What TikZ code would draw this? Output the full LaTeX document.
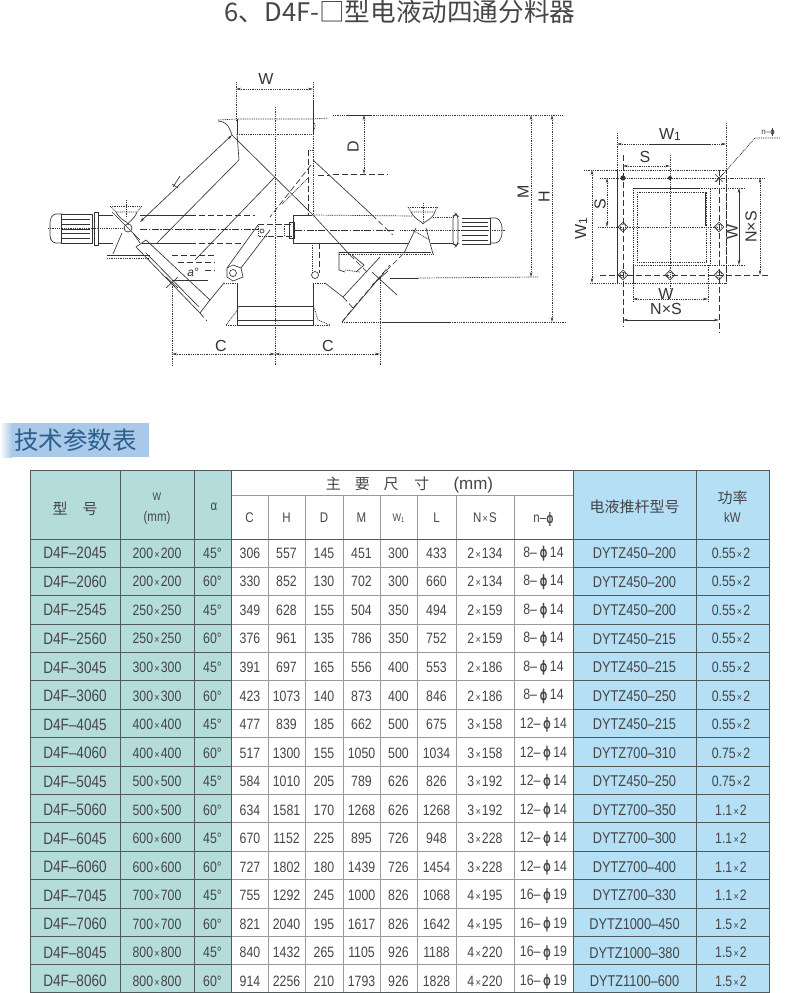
\documentclass[tikz,border=0pt]{standalone}
\usepackage{fontspec}
\usetikzlibrary{arrows.meta}
\setmainfont[FakeStretch=0.82]{Liberation Sans}
\newfontfamily\cjkfont{Noto Sans CJK SC}
\newfontfamily\phifont[FakeStretch=0.8,FakeBold=1]{DejaVu Sans}
\newfontfamily\dimfont{Liberation Sans}
\newcommand{\ph}{{\phifont ϕ}}
\newcommand{\tms}{\kern1.2pt{\fontsize{11}{11}\selectfont ×}\kern1.2pt}
\definecolor{tealcell}{HTML}{B3DCDB}
\definecolor{bluecell}{HTML}{B4DFF5}
\definecolor{banner}{HTML}{AAC8E8}
\definecolor{bannertext}{HTML}{2B5F8E}
\definecolor{gridline}{HTML}{505A5A}
\definecolor{inktext}{HTML}{454545}
\definecolor{ink}{HTML}{333333}
\tikzset{
  x=1pt,y=-1pt,
  >={Stealth[length=5pt,width=2.6pt]},
  cell/.style={inner sep=0pt,text=inktext,font=\fontsize{15}{16}\selectfont},
  modelcell/.style={cell,font=\fontsize{16.5}{17}\selectfont},
  rodcell/.style={cell,font=\fontsize{15.6}{17}\selectfont},
  headcjk/.style={inner sep=0pt,text=inktext,font=\fontsize{15}{17}\cjkfont},
  subhead/.style={inner sep=0pt,text=inktext,font=\fontsize{14}{15}\selectfont},
  solidline/.style={draw=ink,line width=0.65pt},
  dotline/.style={draw=ink,line width=0.7pt,dash pattern=on 1pt off 0.8pt},
  dashline/.style={draw=ink,line width=0.65pt,dash pattern=on 6pt off 3pt},
  centerline/.style={draw=ink,line width=0.6pt,dash pattern=on 7pt off 1.5pt on 1.5pt off 1.5pt},
  dimlabel/.style={inner sep=0pt,text=ink,font=\fontsize{16}{17}\dimfont},
  grid/.style={draw=gridline,line width=1pt},
  softgrid/.style={draw=gray!80,line width=1pt},
}
\begin{document}
\begin{tikzpicture}
\useasboundingbox (0,0) rectangle (789,993);
% title
\node[inner sep=0pt,text=inktext,font=\fontsize{25.6}{27}\cjkfont] (title) at (400,12) {6、D4F-□型电液动四通分料器};
% banner
\path[left color=white,right color=banner] (0,423) rectangle (12,457);
\fill[banner] (12,423) rectangle (149,457);
\node[inner sep=0pt,text=bannertext,font=\fontsize{24.5}{26}\cjkfont] (bannerlabel) at (75.5,440) {技术参数表};

%% ---------- table ----------
\fill[tealcell] (30,470) rectangle (231,993);
\fill[bluecell] (573,470) rectangle (769,993);
\foreach \yy in {567.3,595.7,...,990} \draw[softgrid] (231,\yy) -- (573,\yy);
\draw[softgrid] (231,495) -- (573,495);
\foreach \xx in {268,305,343,380,417,456,514} \draw[softgrid] (\xx,495) -- (\xx,993);
\foreach \yy in {567.3,595.7,...,990} {\draw[grid] (30,\yy) -- (231,\yy); \draw[grid] (573,\yy) -- (769,\yy);}
\draw[grid] (30,539) -- (769,539);
\draw[grid] (30,470) rectangle (769,992.5);
\foreach \xx in {120,194,231,573,696,769} \draw[grid] (\xx,470) -- (\xx,992.5);
% header
\node[headcjk] (hmodel) at (75,509) {型\hspace{1em}号};
\node[subhead,font=\fontsize{11}{12}\selectfont] (hw) at (157,497) {W};
\node[subhead] (hmm) at (157,518) {(mm)};
\node[subhead] (halpha) at (214,507) {α};
\node[headcjk] (hmain) at (409.5,485) {主\hspace{0.93em}要\hspace{0.93em}尺\hspace{1.05em}寸\hspace{1.6em}{\fontsize{17}{18}\dimfont (mm)}};
\node[subhead] (hc) at (249.5,518) {C};
\node[subhead] (hh) at (286.5,518) {H};
\node[subhead] (hd) at (324,518) {D};
\node[subhead] (hm) at (361.5,518) {M};
\node[subhead,font=\fontsize{11}{12}\selectfont] (hwone) at (398.5,518) {W\raisebox{-1pt}{\fontsize{7}{8}\selectfont 1}};
\node[subhead] (hl) at (436.5,518) {L};
\node[subhead] (hns) at (485,518) {N\tms S};
\node[subhead] (hn) at (543.5,519) {n–\ph};
\node[headcjk] (hrod) at (634.5,507) {电液推杆型号};
\node[headcjk] (hpow) at (732.5,498) {功率};
\node[subhead] (hkw) at (732.5,517) {kW};
% rows
\foreach \ma/\mb/\mc/\md/\me/\mf/\mg/\mh/\mi/\mj/\mk/\ml/\mm [count=\rr] in {
D4F–2045/200\tms200/45°/306/557/145/451/300/433/2\tms134/8–/DYTZ450–200/0.55\tms2,
D4F–2060/200\tms200/60°/330/852/130/702/300/660/2\tms134/8–/DYTZ450–200/0.55\tms2,
D4F–2545/250\tms250/45°/349/628/155/504/350/494/2\tms159/8–/DYTZ450–200/0.55\tms2,
D4F–2560/250\tms250/60°/376/961/135/786/350/752/2\tms159/8–/DYTZ450–215/0.55\tms2,
D4F–3045/300\tms300/45°/391/697/165/556/400/553/2\tms186/8–/DYTZ450–215/0.55\tms2,
D4F–3060/300\tms300/60°/423/1073/140/873/400/846/2\tms186/8–/DYTZ450–250/0.55\tms2,
D4F–4045/400\tms400/45°/477/839/185/662/500/675/3\tms158/12–/DYTZ450–215/0.55\tms2,
D4F–4060/400\tms400/60°/517/1300/155/1050/500/1034/3\tms158/12–/DYTZ700–310/0.75\tms2,
D4F–5045/500\tms500/45°/584/1010/205/789/626/826/3\tms192/12–/DYTZ450–250/0.75\tms2,
D4F–5060/500\tms500/60°/634/1581/170/1268/626/1268/3\tms192/12–/DYTZ700–350/1.1\tms2,
D4F–6045/600\tms600/45°/670/1152/225/895/726/948/3\tms228/12–/DYTZ700–300/1.1\tms2,
D4F–6060/600\tms600/60°/727/1802/180/1439/726/1454/3\tms228/12–/DYTZ700–400/1.1\tms2,
D4F–7045/700\tms700/45°/755/1292/245/1000/826/1068/4\tms195/16–/DYTZ700–330/1.1\tms2,
D4F–7060/700\tms700/60°/821/2040/195/1617/826/1642/4\tms195/16–/DYTZ1000–450/1.5\tms2,
D4F–8045/800\tms800/45°/840/1432/265/1105/926/1188/4\tms220/16–/DYTZ1000–380/1.5\tms2,
D4F–8060/800\tms800/60°/914/2256/210/1793/926/1828/4\tms220/16–/DYTZ1100–600/1.5\tms2}{
  \pgfmathsetmacro{\yc}{553.2+(\rr-1)*28.53}
  \ifnum\rr<13\def\nnum{14}\else\def\nnum{19}\fi
  \node[modelcell] (r\rr a) at (75,\yc) {\ma};
  \node[cell] (r\rr b) at (157,\yc) {\mb};
  \node[cell] (r\rr c) at (212.5,\yc) {\mc};
  \node[cell] (r\rr d) at (250,\yc) {\md};
  \node[cell] (r\rr e) at (286.5,\yc) {\me};
  \node[cell] (r\rr f) at (324,\yc) {\mf};
  \node[cell] (r\rr g) at (361.5,\yc) {\mg};
  \node[cell] (r\rr h) at (398.5,\yc) {\mh};
  \node[cell] (r\rr i) at (436.5,\yc) {\mi};
  \node[cell] (r\rr j) at (485,\yc) {\mj};
  \node[cell] (r\rr k) at (543.5,\yc) {\mk\,\ph\,\nnum};
  \node[rodcell] (r\rr l) at (634.5,\yc) {\ml};
  \node[cell] (r\rr m) at (731,\yc) {\mm};
}

%% ---------- side elevation ----------
% centre lines
\draw[dotline] (275,107) -- (275,365);
\draw[dotline] (48,228) -- (125,228);
\draw[centerline] (140,229) -- (258,229);
\draw[centerline] (295,230) -- (395,230);
\draw[dotline] (400,230) -- (505,230);
% inlet
\draw[dotline] (218,120) -- (237,119) -- (313,119) -- (328,118);
\draw[solidline] (237,119) -- (237,134);
\draw[solidline] (313,100) -- (313,134);
\draw[dotline] (237,134) -- (313,134);
\draw[solidline] (218,121) .. controls (226,122) and (228,124) .. (232,135);
\draw[dotline] (313,122) .. controls (317,124) and (315,128) .. (313,131);
% W dimension
\draw[dotline] (236,82) -- (236,120);
\draw[dotline] (313,82) -- (313,100);
\draw[dotline,<->] (236,89) -- (313,89);
\node[dimlabel] (lw) at (266,79) {W};
% hopper left leg
\draw[solidline] (237,134) -- (239,160);
\draw[solidline] (239,160) -- (157,243);
\draw[solidline,<->] (232,135) -- (140,222);
\draw[solidline] (275,177) -- (195,260);
\draw[solidline] (232,135) -- (313,215);
\draw[solidline] (313,215) -- (350,255);
\draw[dashline] (350,255) -- (367,272);
\draw[solidline] (173,187) -- (180,176);
\draw[solidline] (172,184) -- (178,188);
% hopper right leg
\draw[dotline] (313,134) -- (313,215);
\draw[dashline] (308,150) -- (308,215);
\draw[dotline] (308,150) -- (313,150);
\draw[dashline] (311,165) -- (270,217);
\draw[dotline] (308,178) -- (282,204);
\draw[solidline] (313,160) -- (372,215);
\draw[dashline] (372,215) -- (393,235);
\draw[dashline] (318,175) -- (330,175);
% left cylinder
\draw[solidline] (140,215) -- (190,215);
\draw[dashline] (190,215) -- (255,215);
\draw[solidline] (142,243) -- (190,243);
\draw[dashline] (190,243) -- (245,243);
% right cylinder
\draw[solidline] (293,215) -- (293,243);
\draw[solidline] (293,215) -- (312,215);
\draw[solidline] (293,243) -- (408,243);
\draw[dotline] (312,215) -- (412,216);
% lower left flange
\draw[solidline] (136,247) -- (146,240) -- (210,300) -- (200,313) -- cycle;
\draw[solidline] (146,253) -- (199,307);
\draw[dashline] (200,313) -- (207,321);
\draw[solidline] (107,255) -- (150,255);
\draw[dotline] (107,258) -- (150,258);
\draw[solidline] (166,277) -- (178,288);
\draw[solidline] (178,277) -- (166,288);
\draw[solidline] (172,280) -- (208,280);
\draw[dashline] (172,255) -- (215,255);
\draw[dashline] (178,262) -- (215,262);
\draw[dashline] (205,270) -- (215,270);
\node[dimlabel,font=\fontsize{12}{13}\dimfont\itshape] (la) at (193,272) {a°};
% linkage arm
\draw[solidline] (227,268) -- (233,265) -- (241,268) -- (243,277) -- (233,281) -- (227,277) -- cycle;
\draw[solidline] (233,273) circle (3.5);
\draw[solidline] (227,268) -- (258,225);
\draw[solidline] (241,268) -- (270,230);
\draw[dashline] (258,224) -- (292,224);
\draw[dashline] (268,236) -- (292,236);
\draw[dotline] (258,224) -- (258,236) -- (268,236);
\draw[solidline] (262,231) circle (2);
\draw[dotline] (284,224) -- (284,236);
\draw[solidline] (289,222) -- (294,222) -- (294,238) -- (289,238) -- cycle;
% outlet
\draw[solidline] (237,283) -- (237,325);
\draw[dotline] (238,283) -- (224,283);
\draw[solidline] (224,283) -- (210,300);
\draw[solidline] (239,306) -- (313,306);
\draw[solidline] (238,320) -- (313,320);
\draw[solidline] (238,325) -- (313,325);
\draw[dotline] (226,325) -- (238,325);
\draw[dotline] (313,325) -- (330,325);
\draw[dotline] (226,325) -- (236,312) -- (239,306);
\draw[solidline] (313,283) -- (313,325);
\draw[dotline] (313,306) .. controls (316,310) and (316,316) .. (318,320) -- (330,325);
% lower right
\draw[dotline] (313,283) -- (325,283);
\draw[solidline] (325,283) -- (343,297);
\draw[dashline] (319,243) -- (319,273);
\draw[dotline] (312,243) -- (312,272);
\draw[solidline] (315,275) circle (3.5);
\draw[solidline] (343,297) -- (380,257);
\draw[solidline] (342,322) -- (380,277);
\draw[dashline] (380,277) -- (404,253);
\draw[dashline] (353,308) -- (390,265);
\draw[dashline] (343,297) -- (353,308) -- (342,322);
\draw[solidline] (372,272) -- (397,295);
\draw[solidline] (372,285) -- (388,271);
\draw[solidline] (339,252) -- (431,252);
\draw[dotline] (339,254) -- (433,254);
\draw[solidline] (339,252) -- (339,270) -- (345,272);
\draw[solidline] (352,255) -- (364,265) -- (356,272);
\draw[dotline] (345,270) -- (360,272);
% left motor
\draw[solidline,rounded corners=3pt] (62,214) -- (53,214) -- (50,220) -- (50,238) -- (53,243) -- (62,243);
\draw[solidline] (61,214) -- (92,214) -- (92,243) -- (61,243) -- cycle;
\foreach \fy in {219,224,229,233,238} \draw[draw=ink,line width=0.45pt] (62,\fy) -- (90,\fy);
\draw[solidline] (94,212) rectangle (98,245);
\draw[solidline] (98,215) -- (113,215);
\draw[solidline] (98,243) -- (113,243);
% left pivot
\draw[solidline] (128,228) circle (4);
\draw[dotline] (110,206) -- (142,206);
\draw[dotline] (110,206) -- (116,212) -- (137,212) -- (142,206);
\draw[solidline] (116,212) .. controls (120,220) and (128,222) .. (128,224);
\draw[solidline] (137,212) .. controls (134,220) and (128,222) .. (128,224);
\draw[dotline] (126,200) -- (126,218);
\draw[solidline] (112,212) -- (140,240);
\draw[solidline] (122,233) -- (113,254);
\draw[solidline] (133,233) -- (140,243);
% right motor
\draw[solidline] (462,218) -- (490,218) -- (490,244) -- (462,244);
\foreach \fy in {222,226,230,235,240} \draw[draw=ink,line width=0.45pt] (462,\fy) -- (488,\fy);
\draw[solidline,rounded corners=2pt] (490,218) -- (498,218) -- (502,225) -- (502,236) -- (498,243) -- (490,243);
\draw[solidline,rounded corners=3pt] (456,214) -- (453,216) -- (453,244) -- (456,246) -- (458,244) -- (458,216) -- cycle;
\draw[dotline] (433,217) -- (453,217);
\draw[solidline] (431,243) -- (453,243);
% right pivot
\draw[dotline] (408,207) -- (437,207);
\draw[dotline] (408,207) -- (411,212) -- (435,212) -- (437,207);
\draw[solidline] (411,212) .. controls (415,220) and (423,222) .. (423,224);
\draw[solidline] (435,212) .. controls (432,220) and (423,222) .. (423,224);
\draw[dotline] (423,203) -- (423,222);
\draw[solidline] (416,228) -- (404,253);
\draw[solidline] (426,228) -- (433,254);
\draw[dotline] (412,230) -- (430,240);
% C dimensions
\draw[dotline] (172,282) -- (172,365);
\draw[dotline] (380,278) -- (380,365);
\draw[dotline,<->] (172,354) -- (275,354);
\draw[dotline,<->] (275,354) -- (380,354);
\node[dimlabel] (lc1) at (221,346) {C};
\node[dimlabel] (lc2) at (328,346) {C};
% D M H dimensions
\draw[dotline] (333,115) -- (563,115);
\draw[solidline] (348,115) -- (372,115);
\draw[dashline] (333,174) -- (388,174);
\draw[dotline,<->] (364,115) -- (364,174);
\node[dimlabel,rotate=90] (ld) at (353,147) {D};
\draw[dotline,<->] (531,115) -- (531,277);
\node[dimlabel,rotate=90] (lm) at (523,192) {M};
\draw[dotline,<->] (552,115) -- (552,322);
\node[dimlabel,rotate=90] (lh) at (544,197) {H};
\draw[solidline] (390,278) -- (418,278);
\draw[dotline] (418,278) -- (538,277);
\draw[dotline] (342,322) -- (384,322);
\draw[solidline] (384,322) -- (450,322);
\draw[dotline] (450,322) -- (567,322);

%% ---------- flange view ----------
\draw[dotline] (617,170) rectangle (726,283);
\draw[dotline] (633,188) rectangle (710,265);
\draw[dotline] (637,192) rectangle (706,262);
\draw[solidline] (633,188) -- (700,188);
\draw[solidline] (633,265) -- (633,283);
\draw[solidline] (705,192) -- (705,226);
\draw[dotline] (600,178) -- (735,178);
\draw[dashline] (600,275) -- (770,275);
\draw[dotline] (598,227) -- (720,227);
\draw[dashline] (623,155) -- (623,327);
\draw[dotline] (670,155) -- (670,290);
\draw[dashline] (719,170) -- (719,333);
\draw[dotline] (617,133) -- (617,283);
\draw[dotline] (726,123) -- (726,283);
\draw[dotline] (584,170) -- (617,170);
\draw[dotline] (590,283) -- (617,283);
\draw[dotline] (708,265) -- (708,302);
\draw[dotline] (633,283) -- (633,302);
\draw[dotline] (710,188) -- (745,188);
\draw[dotline] (710,265) -- (745,265);
\draw[dotline] (719,178) -- (765,178);
\foreach \hx/\hy in {623/227,719/227,623/275,670/275,719/275}{
  \draw[solidline] (\hx-5,\hy) -- (\hx,\hy-5) -- (\hx+5,\hy) -- (\hx,\hy+5) -- cycle;
  \draw[dotline] (\hx,\hy) circle (3);
}
\fill[ink] (623,178) circle (2.6);
\fill[ink] (670,178) circle (2);
\draw[solidline] (715,174) -- (723,182);
\draw[solidline] (723,174) -- (715,182);
\draw[dotline,<->] (617,144) -- (726,144);
\draw[solidline] (650,144) -- (710,144);
\node[dimlabel] (lw1a) at (670,134) {W\raisebox{-1pt}{\fontsize{12}{13}\selectfont 1}};
\draw[dotline,<->] (623,166) -- (670,166);
\node[dimlabel] (ls1) at (645,157) {S};
\node[inner sep=0pt,text=ink,font=\fontsize{8}{9}\dimfont] (lnd) at (768,132) {n–\ph};
\coordinate (lead) at (716,182);
\coordinate (leadend) at (755,138);
\draw[dotline] (lead) -- (leadend) -- (780,138);
\draw[dotline,<->] (592,170) -- (592,283);
\node[dimlabel,rotate=90] (lw1b) at (581,229) {W\raisebox{-1pt}{\fontsize{12}{13}\selectfont 1}};
\draw[dotline,<->] (607,178) -- (607,227);
\node[dimlabel,rotate=90] (ls2) at (600,204) {S};
\draw[solidline,<->] (739,188) -- (739,265);
\node[dimlabel,rotate=90] (lw2) at (732,232) {W};
\draw[dotline,<->] (760,178) -- (760,275);
\node[dimlabel,rotate=90] (lns1) at (751,227) {N×S};
\draw[dotline,<->] (633,299) -- (708,299);
\node[dimlabel] (lw3) at (666,294) {W};
\draw[solidline,<->] (623,320) -- (719,320);
\node[dimlabel] (lns2) at (666,309) {N×S};
\end{tikzpicture}
\end{document}
